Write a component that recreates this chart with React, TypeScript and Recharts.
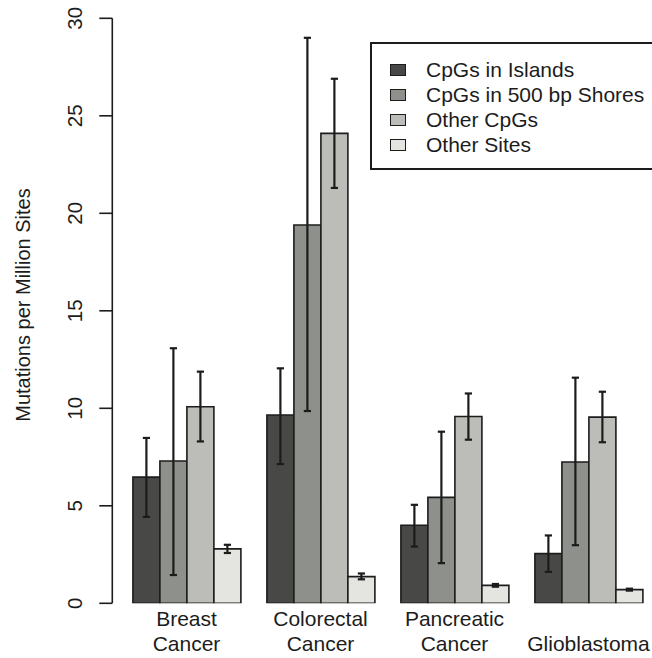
import React from "react";
import { BarChart, Bar, XAxis, YAxis, ErrorBar, Legend } from "recharts";

const categories = ["Breast Cancer", "Colorectal Cancer", "Pancreatic Cancer", "Glioblastoma"];
const tickLabelLines = [
  ["Breast", "Cancer"],
  ["Colorectal", "Cancer"],
  ["Pancreatic", "Cancer"],
  ["", "Glioblastoma"],
];
const yTicks = [0, 5, 10, 15, 20, 25, 30];
const yTitle = "Mutations per Million Sites";

const seriesNames = ["CpGs in Islands", "CpGs in 500 bp Shores", "Other CpGs", "Other Sites"];
const seriesColors = ["#484846", "#8e908b", "#bcbdb8", "#e4e5e1"];

const islands = [6.47, 9.66, 4.0, 2.55];
const islandsLow = [4.43, 7.14, 2.91, 1.61];
const islandsHigh = [8.48, 12.05, 5.05, 3.48];

const shores = [7.3, 19.4, 5.43, 7.25];
const shoresLow = [1.45, 9.86, 2.06, 2.98];
const shoresHigh = [13.08, 29.0, 8.8, 11.57];

const otherCpG = [10.08, 24.1, 9.58, 9.55];
const otherCpGLow = [8.3, 21.3, 8.39, 8.26];
const otherCpGHigh = [11.88, 26.9, 10.76, 10.85];

const otherSites = [2.79, 1.37, 0.92, 0.7];
const otherSitesLow = [2.58, 1.23, 0.85, 0.65];
const otherSitesHigh = [3.0, 1.53, 0.99, 0.75];

const values = [islands, shores, otherCpG, otherSites];
const lows = [islandsLow, shoresLow, otherCpGLow, otherSitesLow];
const highs = [islandsHigh, shoresHigh, otherCpGHigh, otherSitesHigh];

const data = categories.map((c, i) => {
  const row: any = { name: c, idx: i };
  values.forEach((arr, s) => {
    row["s" + s] = arr[i];
    row["e" + s] = [arr[i] - lows[s][i], highs[s][i] - arr[i]];
  });
  return row;
});

const FONT = "'Liberation Sans', Arial, Helvetica, sans-serif";
const INK = "#1c1c1c";

const XTick = (props: any) => {
  const { x, y, index } = props;
  const lines = tickLabelLines[index] || ["", ""];
  return (
    <g>
      <text x={x} y={y + 22.4} textAnchor="middle" fontSize={21} fontFamily={FONT} fill={INK}>
        {lines[0]}
      </text>
      <text x={x} y={y + 47.4} textAnchor="middle" fontSize={21} fontFamily={FONT} fill={INK}>
        {lines[1]}
      </text>
    </g>
  );
};

const YTick = (props: any) => {
  const { y, payload } = props;
  const bx = 82;
  return (
    <text
      x={bx}
      y={y}
      transform={`rotate(-90, ${bx}, ${y})`}
      textAnchor="middle"
      fontSize={20.5}
      fontFamily={FONT}
      fill={INK}
    >
      {payload.value}
    </text>
  );
};

const renderYTitle = () => (
  <text
    x={29.5}
    y={305}
    transform="rotate(-90, 29.5, 305)"
    textAnchor="middle"
    fontSize={20}
    fontFamily={FONT}
    fill={INK}
  >
    {yTitle}
  </text>
);

const LegendBox = () => (
  <div
    style={{
      position: "absolute",
      left: 370,
      top: 42,
      width: 320,
      height: 128,
      border: `2px solid ${INK}`,
      boxSizing: "border-box",
      background: "#fff",
      fontFamily: FONT,
    }}
  >
    {seriesNames.map((n, i) => (
      <div
        key={n}
        style={{
          position: "absolute",
          left: 0,
          top: 13 + i * 25,
          height: 25,
          display: "flex",
          alignItems: "center",
          whiteSpace: "nowrap",
        }}
      >
        <div
          style={{
            marginLeft: 18,
            width: 16,
            height: 12,
            background: seriesColors[i],
            border: `1.5px solid ${INK}`,
            boxSizing: "border-box",
          }}
        />
        <span style={{ marginLeft: 20, fontSize: 21, color: INK, lineHeight: "25px" }}>{n}</span>
      </div>
    ))}
  </div>
);

export default function App() {
  return (
    <div
      style={{
        position: "absolute",
        left: 0,
        top: 0,
        width: 652,
        height: 658,
        overflow: "hidden",
        background: "#fff",
      }}
    >
      <BarChart
        width={660}
        height={658}
        data={data}
        margin={{ top: 18.3, right: 4.5, bottom: 0, left: 0 }}
        barCategoryGap={13.4}
        barGap={0}
      >
        <XAxis
          dataKey="name"
          height={54.7}
          axisLine={false}
          tickLine={false}
          tickSize={0}
          tickMargin={0}
          padding={{ left: 7.2, right: 0 }}
          interval={0}
          tick={<XTick />}
        />
        <YAxis
          width={112.3}
          domain={[0, 30]}
          ticks={yTicks}
          type="number"
          allowDataOverflow
          axisLine={{ stroke: INK, strokeWidth: 1.6 }}
          tickLine={{ stroke: INK, strokeWidth: 1.6 }}
          tickSize={13}
          tick={<YTick />}
          label={{ content: renderYTitle }}
        />
        <Legend content={<LegendBox />} wrapperStyle={{ position: "absolute", left: 0, top: 0, width: 0, height: 0 }} />
        {seriesNames.map((n, s) => (
          <Bar
            key={n}
            dataKey={"s" + s}
            name={n}
            fill={seriesColors[s]}
            stroke={INK}
            strokeWidth={1.6}
            isAnimationActive={false}
          >
            <ErrorBar dataKey={"e" + s} width={3.6} stroke={INK} strokeWidth={2.2} direction="y" />
          </Bar>
        ))}
      </BarChart>
    </div>
  );
}
